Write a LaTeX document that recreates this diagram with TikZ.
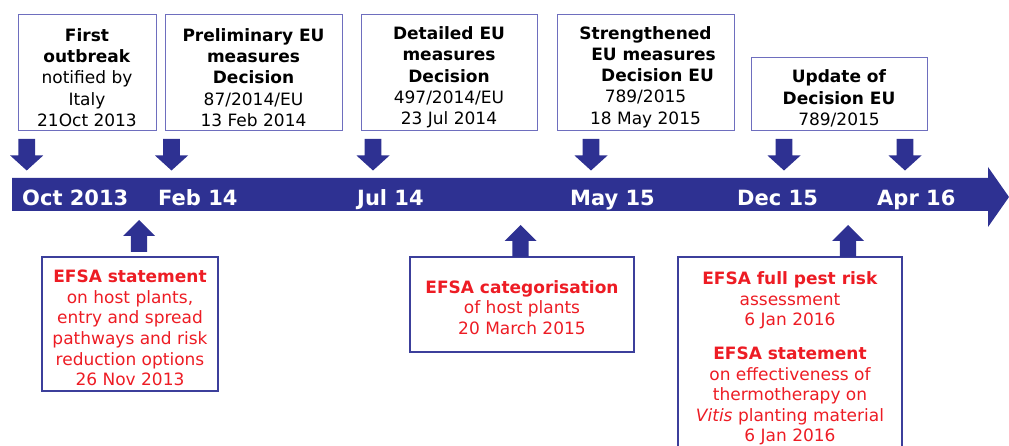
\documentclass[tikz,border=0pt]{standalone}
\usepackage{fontspec}
\setmainfont{DejaVu Sans}
\definecolor{navy}{RGB}{46,49,146}
\definecolor{topblue}{RGB}{110,110,190}
\definecolor{botblue}{RGB}{60,63,155}
\definecolor{efsared}{RGB}{237,28,36}
\begin{document}
\begin{tikzpicture}[x=1pt,y=1pt,
  topframe/.style={draw=topblue, line width=1pt, inner sep=0pt},
  botframe/.style={draw=botblue, line width=1.2pt, inner sep=0pt},
  toptext/.style={inner sep=0pt, align=center,
    font=\fontsize{17}{21.3}\selectfont},
  bottext/.style={inner sep=0pt, align=center, text=efsared,
    font=\fontsize{17}{20.6}\selectfont},
  datelbl/.style={text=white, anchor=base west, inner sep=0pt,
    font=\fontsize{21}{24}\selectfont\bfseries},
  downarr/.pic={\fill[navy] (-8.3,0) -- (8.3,0) -- (8.3,-16.5) -- (16.5,-16.5)
    -- (0,-31.5) -- (-16.5,-16.5) -- (-8.3,-16.5) -- cycle;},
  uparr/.pic={\fill[navy] (-8.2,0) -- (8.2,0) -- (8.2,16) -- (16,16)
    -- (0,32) -- (-16,16) -- (-8.2,16) -- cycle;}
]
\useasboundingbox (0,0) rectangle (1009,-446);

% timeline bar
\fill[navy] (12,-178) -- (988,-178) -- (988,-167) -- (1009,-197)
  -- (988,-227) -- (988,-211) -- (12,-211) -- cycle;

\node[datelbl] (l1) at (22,-206) {Oct 2013};
\node[datelbl] (l2) at (158,-206) {Feb 14};
\node[datelbl] (l3) at (357,-206) {Jul 14};
\node[datelbl] (l4) at (570,-206) {May 15};
\node[datelbl] (l5) at (737,-206) {Dec 15};
\node[datelbl] (l6) at (877,-206) {Apr 16};

% top boxes
\node[topframe, minimum width=138, minimum height=116] (b1) at (87,-73) {};
\node[toptext] (b1t) at ([yshift=-4.5]b1.center)
  {\textbf{First}\\ \textbf{outbreak}\\ notified by\\ Italy\\ 21Oct 2013};
\node[topframe, minimum width=177, minimum height=116] (b2) at (253.5,-73) {};
\node[toptext] (b2t) at ([yshift=-4.5]b2.center)
  {\textbf{Preliminary EU}\\ \textbf{measures}\\ \textbf{Decision}\\ 87/2014/EU\\ 13 Feb 2014};
\node[topframe, minimum width=176, minimum height=116] (b3) at (449,-73) {};
\node[toptext] (b3t) at ([yshift=-4.5]b3.center)
  {\textbf{Detailed EU}\\ \textbf{measures}\\ \textbf{Decision}\\ 497/2014/EU\\ 23 Jul 2014};
\node[topframe, minimum width=177, minimum height=116] (b4) at (645.5,-73) {};
\node[toptext] (b4t) at ([yshift=-4]b4.center)
  {\textbf{Strengthened}\\ \hspace*{16pt}\textbf{EU measures}\\ \hspace*{24pt}\textbf{Decision EU}\\ 789/2015\\ 18 May 2015};
\node[topframe, minimum width=176, minimum height=73] (b5) at (839,-94.5) {};
\node[toptext] (b5t) at ([yshift=-4]b5.center)
  {\textbf{Update of}\\ \textbf{Decision EU}\\ 789/2015};

% down arrows
\pic at (26.7,-139) {downarr};
\pic at (171.5,-139) {downarr};
\pic at (373,-139) {downarr};
\pic at (591,-139) {downarr};
\pic at (784,-139) {downarr};
\pic at (905,-139) {downarr};

% bottom boxes
\node[botframe, minimum width=176, minimum height=134] (e1) at (130,-324) {};
\node[bottext] (e1t) at ([yshift=-4]e1.center)
  {\textbf{EFSA statement}\\ on host plants,\\ entry and spread\\ pathways and risk\\ reduction options\\ 26 Nov 2013};
\node[botframe, minimum width=224, minimum height=95] (e2) at (522,-304.5) {};
\node[bottext] (e2t) at ([yshift=-3]e2.center)
  {\textbf{EFSA categorisation}\\ of host plants\\ 20 March 2015};
\node[botframe, minimum width=224, minimum height=201] (e3) at (790,-357.5) {};
\node[bottext] (e3t) at ([yshift=-1]e3.center)
  {\textbf{EFSA full pest risk}\\ assessment\\ 6 Jan 2016\\[13pt] \textbf{EFSA statement}\\ on effectiveness of\\ thermotherapy on\\ {\itshape Vitis} planting material\\ 6 Jan 2016};

% up arrows
\pic at (139,-252) {uparr};
\pic at (520.5,-257) {uparr};
\pic at (848,-257) {uparr};
\end{tikzpicture}
\end{document}
